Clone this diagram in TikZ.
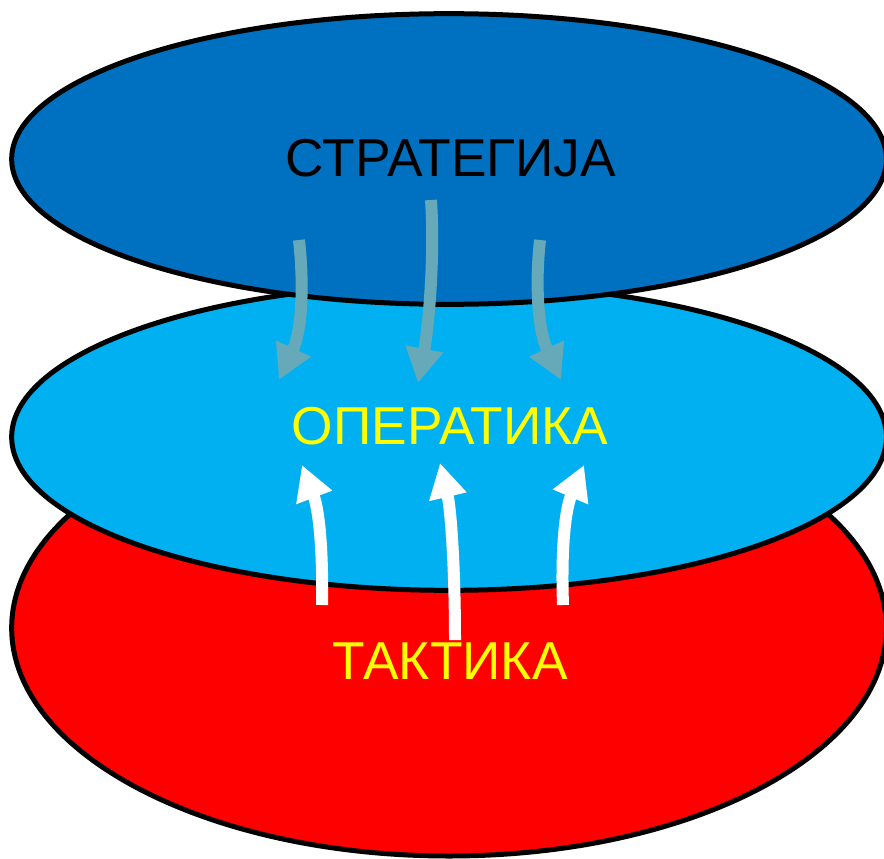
\documentclass[tikz,border=0pt]{standalone}
\usepackage{fontspec}
\setmainfont{Liberation Sans}
\usetikzlibrary{arrows.meta,shapes.geometric}
\definecolor{stratblue}{RGB}{0,112,192}
\definecolor{operblue}{RGB}{0,176,240}
\definecolor{taktred}{RGB}{255,0,0}
\definecolor{labelyellow}{RGB}{255,255,0}
\definecolor{flowgray}{RGB}{102,170,186}

\begin{document}
\begin{tikzpicture}[x=0.75pt, y=-0.75pt,
  layer/.style={ellipse, draw=black, line width=3.75pt, inner sep=0pt, minimum width=656pt},
  title/.style={font=\fontsize{40}{48}\selectfont, inner sep=0pt},
  down/.style={draw=flowgray, line width=9pt, -{Triangle[length=26pt,width=27pt]}},
  up/.style={draw=white, line width=9pt, -{Triangle[length=26pt,width=27pt]}}]
  \useasboundingbox (0,0) rectangle (884,859);
  % layers, bottom one first
  \node[layer, fill=taktred, minimum height=342pt] (tak) at (449,628) {};
  \node[layer, fill=operblue, minimum height=230pt] (ope) at (449,437) {};
  \node[layer, fill=stratblue, minimum height=218pt] (str) at (449,159) {};
  % labels
  \node[title, text=black] (strlab) at (451,158) {СТРАТЕГИЈА};
  \node[title, text=labelyellow] (opelab) at (450,426) {ОПЕРАТИКА};
  \node[title, text=labelyellow] (taklab) at (450,661) {ТАКТИКА};
  % arrow ends
  \coordinate (s1) at (299,240);
  \coordinate (s2) at (431,200);
  \coordinate (s3) at (540,240);
  \coordinate (o1) at (279,380);
  \coordinate (o2) at (418,383);
  \coordinate (o3) at (561,380);
  \coordinate (t1) at (322,605);
  \coordinate (t2) at (455,640);
  \coordinate (t3) at (563,605);
  \coordinate (u1) at (302,465);
  \coordinate (u2) at (440,463);
  \coordinate (u3) at (584,465);
  % strategy down to operations
  \draw[down] (s1) .. controls (304,285) and (302,330) .. (o1);
  \draw[down] (s2) .. controls (435,260) and (428,330) .. (o2);
  \draw[down] (s3) .. controls (535,285) and (538,330) .. (o3);
  % tactics up to operations
  \draw[up] (t1) .. controls (323,550) and (319,510) .. (u1);
  \draw[up] (t2) .. controls (455,570) and (451,510) .. (u2);
  \draw[up] (t3) .. controls (561,550) and (565,510) .. (u3);
\end{tikzpicture}
\end{document}
